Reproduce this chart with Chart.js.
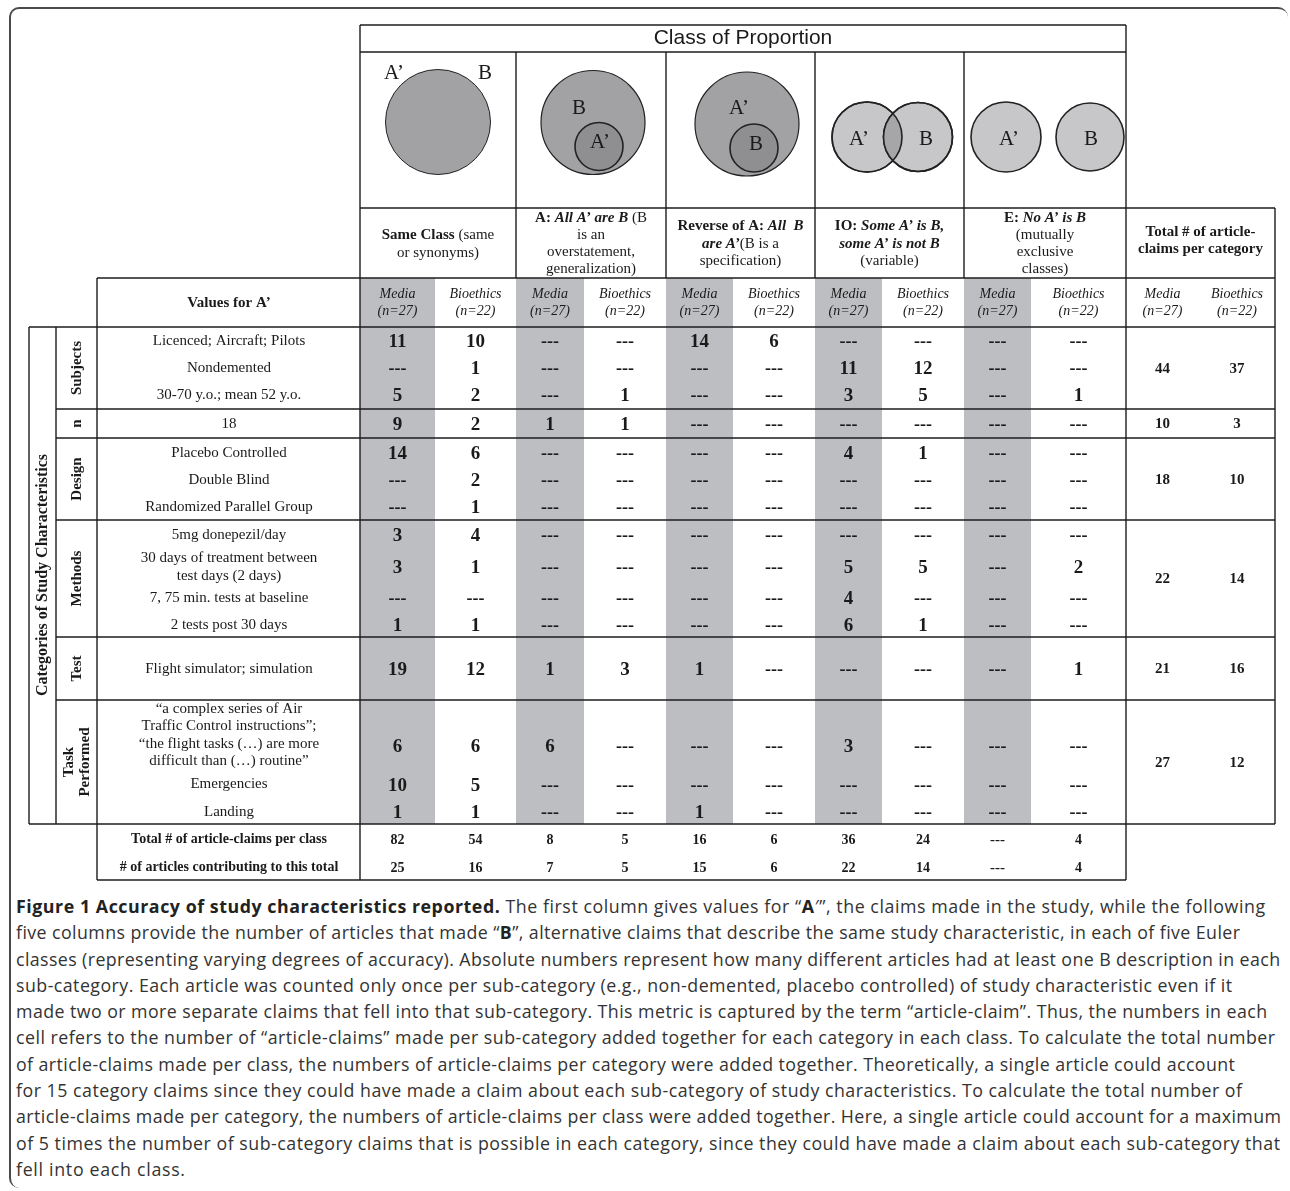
<!DOCTYPE html>
<html>
<head>
<meta charset="utf-8">
<script src="https://cdn.jsdelivr.net/npm/chart.js@4.4.1/dist/chart.umd.min.js"></script>
<style>
  html, body { margin: 0; padding: 0; background: #fff; }
  body { width: 1290px; height: 1191px; position: relative; overflow: hidden; }
  #frame {
    position: absolute; left: 9px; top: 7px; width: 1279px; height: 1181px;
    border-top: 2px solid #4a4a4a; border-left: 2px solid #4a4a4a;
    border-top-left-radius: 10px; border-bottom-left-radius: 10px; border-top-right-radius: 10px;
    box-sizing: border-box;
  }
  #table { position: absolute; left: 0; top: 0; }
  #caption {
    position: absolute; left: 16px; top: 893px; width: 1272px;
    font-family: "Open Sans", Lato, sans-serif; font-size: 17.8px; line-height: 26.3px;
    color: #333; white-space: nowrap;
  }
  #caption div { display: block; }
  #caption span.ln { display: inline-block; }
  #caption b { color: #222; }
</style>
</head>
<body>
<div id="frame"></div>
<canvas id="table" width="1290" height="890"></canvas>
<div id="caption">
<div><span class="ln"><b>Figure 1 Accuracy of study characteristics reported.</b> The first column gives values for “<b>A</b>′”, the claims made in the study, while the following</span></div>
<div><span class="ln">five columns provide the number of articles that made “<b>B</b>”, alternative claims that describe the same study characteristic, in each of five Euler</span></div>
<div><span class="ln">classes (representing varying degrees of accuracy). Absolute numbers represent how many different articles had at least one B description in each</span></div>
<div><span class="ln">sub-category. Each article was counted only once per sub-category (e.g., non-demented, placebo controlled) of study characteristic even if it</span></div>
<div><span class="ln">made two or more separate claims that fell into that sub-category. This metric is captured by the term “article-claim”. Thus, the numbers in each</span></div>
<div><span class="ln">cell refers to the number of “article-claims” made per sub-category added together for each category in each class. To calculate the total number</span></div>
<div><span class="ln">of article-claims made per class, the numbers of article-claims per category were added together. Theoretically, a single article could account</span></div>
<div><span class="ln">for 15 category claims since they could have made a claim about each sub-category of study characteristics. To calculate the total number of</span></div>
<div><span class="ln">article-claims made per category, the numbers of article-claims per class were added together. Here, a single article could account for a maximum</span></div>
<div><span class="ln">of 5 times the number of sub-category claims that is possible in each category, since they could have made a claim about each sub-category that</span></div>
<div><span class="ln">fell into each class.</span></div>
</div>
<script>
// ---- data ----
const categories = ['Subjects', 'n', 'Design', 'Methods', 'Test', 'Task|Performed'];
const subRows = [
  ['Licenced; Aircraft; Pilots'], ['Nondemented'], ['30-70 y.o.; mean 52 y.o.'],
  ['18'],
  ['Placebo Controlled'], ['Double Blind'], ['Randomized Parallel Group'],
  ['5mg donepezil/day'], ['30 days of treatment between', 'test days (2 days)'],
  ['7, 75 min. tests at baseline'], ['2 tests post 30 days'],
  ['Flight simulator; simulation'],
  ['“a complex series of Air', 'Traffic Control instructions”;', '“the flight tasks (…) are more', 'difficult than (…) routine”'],
  ['Emergencies'], ['Landing']
];
const groups = ['Media', 'Bioethics'];
const groupN = ['(n=27)', '(n=22)'];

// one array per column, null = "---"
const sameMedia = [11, null, 5, 9, 14, null, null, 3, 3, null, 1, 19, 6, 10, 1];
const sameBio   = [10, 1, 2, 2, 6, 2, 1, 4, 1, null, 1, 12, 6, 5, 1];
const allMedia  = [null, null, null, 1, null, null, null, null, null, null, null, 1, 6, null, null];
const allBio    = [null, null, 1, 1, null, null, null, null, null, null, null, 3, null, null, null];
const revMedia  = [14, null, null, null, null, null, null, null, null, null, null, 1, null, null, 1];
const revBio    = [6, null, null, null, null, null, null, null, null, null, null, null, null, null, null];
const ioMedia   = [null, 11, 3, null, 4, null, null, null, 5, 4, 6, null, 3, null, null];
const ioBio     = [null, 12, 5, null, 1, null, null, null, 5, null, 1, null, null, null, null];
const exMedia   = [null, null, null, null, null, null, null, null, null, null, null, null, null, null, null];
const exBio     = [null, null, 1, null, null, null, null, null, 2, null, null, 1, null, null, null];

const categoryTotalMedia = [44, 10, 18, 22, 21, 27];
const categoryTotalBio   = [37, 3, 10, 14, 16, 12];
const classTotals   = [82, 54, 8, 5, 16, 6, 36, 24, null, 4];
const articleTotals = [25, 16, 7, 5, 15, 6, 22, 14, null, 4];

const columns = [sameMedia, sameBio, allMedia, allBio, revMedia, revBio, ioMedia, ioBio, exMedia, exBio];

// ---- layout (pixel units of the hidden scales) ----
const W = 1290, H = 890;
const colEdges = [360, 435, 516, 584, 666, 733, 815, 882, 964, 1031, 1126, 1199, 1275];
const rowY = [341, 368, 395, 424, 453, 480, 507, 535, 567, 598, 625, 669, 746, 785, 812];
const labelY = [341, 368, 395, 424, 453, 480, 507, 535, 567, 598, 625, 669, 735, 784, 812];
const catEdges = [327, 409, 438, 520, 637, 700, 824];
const totalRowY = [839, 867];
const valuesX = 229;
// right edges of the caption lines
const captionEnds = [1265, 1240, 1280, 1232, 1267, 1275, 1235, 1242, 1281, 1280, 185];

const SERIF = '"Liberation Serif", "Times New Roman", serif';
const fN = s => s + 'px ' + SERIF;
const fB = s => 'bold ' + s + 'px ' + SERIF;
const fBI = s => 'bold italic ' + s + 'px ' + SERIF;
const fI = s => 'italic ' + s + 'px ' + SERIF;

const colCenter = j => (colEdges[j] + colEdges[j + 1]) / 2;
const catCenter = k => (catEdges[k] + catEdges[k + 1]) / 2;
const show = v => (v === null ? '---' : String(v));

// datasets: every cell is a point placed by the scales, its text drawn at the element
const datasets = columns.map((col, j) => ({
  label: 'col' + j,
  data: col.map((v, i) => ({ x: colCenter(j), y: rowY[i], v: v })),
  cellFont: fB(19), dashFont: fB(18)
}));
datasets.push({
  label: 'categoryTotals',
  data: categoryTotalMedia.map((v, k) => ({ x: colCenter(10), y: catCenter(k), v: v }))
    .concat(categoryTotalBio.map((v, k) => ({ x: colCenter(11), y: catCenter(k), v: v }))),
  cellFont: fB(15), dashFont: fB(15)
});
datasets.push({
  label: 'classTotals',
  data: classTotals.map((v, j) => ({ x: colCenter(j), y: totalRowY[0], v: v }))
    .concat(articleTotals.map((v, j) => ({ x: colCenter(j), y: totalRowY[1], v: v }))),
  cellFont: fB(14), dashFont: fB(15)
});
datasets.forEach(d => { d.pointRadius = 0; d.pointHoverRadius = 0; });

function drawRuns(ctx, runs, cx, y) {
  let total = 0;
  runs.forEach(r => { ctx.font = r[1]; total += ctx.measureText(r[0]).width; });
  let x = cx - total / 2;
  ctx.textAlign = 'left';
  runs.forEach(r => { ctx.font = r[1]; ctx.fillText(r[0], x, y); x += ctx.measureText(r[0]).width; });
}

const headerTexts = [
  { lines: [[['Same Class', fB(15)], [' (same', fN(15)]], [['or synonyms)', fN(15)]]], y: [235, 253] },
  { lines: [[['A: ', fB(15)], ['All A’ are B', fBI(15)], [' (B', fN(15)]], [['is an', fN(15)]], [['overstatement,', fN(15)]], [['generalization)', fN(15)]]], y: [218, 235, 252, 269] },
  { lines: [[['Reverse of A: ', fB(15)], ['All  B', fBI(15)]], [['are A’', fBI(15)], ['(B is a', fN(15)]], [['specification)', fN(15)]]], y: [226, 244, 261] },
  { lines: [[['IO: ', fB(15)], ['Some A’ is B,', fBI(15)]], [['some A’ is not B', fBI(15)]], [['(variable)', fN(15)]]], y: [226, 244, 261] },
  { lines: [[['E: ', fB(15)], ['No A’ is B', fBI(15)]], [['(mutually', fN(15)]], [['exclusive', fN(15)]], [['classes)', fN(15)]]], y: [218, 235, 252, 269] },
  { lines: [[['Total # of article-', fB(15)]], [['claims per category', fB(15)]]], y: [232, 249] }
];

const GRAY = '#bdbec1';
const LINE = '#1c1c1c';

const tablePlugin = {
  id: 'tableGrid',
  beforeDatasetsDraw(chart) {
    const ctx = chart.ctx;
    const sx = chart.scales.x, sy = chart.scales.y;
    const px = v => sx.getPixelForValue(v), py = v => sy.getPixelForValue(v);
    ctx.save();

    // shaded media columns
    ctx.fillStyle = GRAY;
    for (let j = 0; j < 10; j += 2) {
      ctx.fillRect(px(colEdges[j]), py(278), px(colEdges[j + 1]) - px(colEdges[j]), py(824) - py(278));
    }

    // grid lines
    ctx.strokeStyle = LINE;
    ctx.lineWidth = 1.4;
    const hl = (y, x0, x1) => { ctx.beginPath(); ctx.moveTo(px(x0), py(y)); ctx.lineTo(px(x1), py(y)); ctx.stroke(); };
    const vl = (x, y0, y1) => { ctx.beginPath(); ctx.moveTo(px(x), py(y0)); ctx.lineTo(px(x), py(y1)); ctx.stroke(); };
    hl(25, 360, 1126); hl(52, 360, 1126); hl(208, 360, 1275); hl(278, 97, 1275);
    hl(327, 29, 1275);
    catEdges.slice(1, -1).forEach(y => hl(y, 56, 1275));
    hl(824, 29, 1275); hl(880, 97, 1126);
    vl(360, 25, 880); vl(1126, 25, 880); vl(1275, 208, 824);
    vl(97, 278, 880); vl(56, 327, 824); vl(29, 327, 824);
    [2, 4, 6, 8].forEach(j => vl(colEdges[j], 52, 278));

    ctx.fillStyle = '#1a1a1a';
    ctx.textBaseline = 'middle';

    // title
    ctx.font = '21px "Liberation Sans", Arial, sans-serif';
    ctx.textAlign = 'center';
    ctx.fillText('Class of Proportion', px(743), py(38));

    // class header texts
    headerTexts.forEach((h, k) => {
      const cx = (colEdges[2 * k] + colEdges[2 * k + 2]) / 2;
      h.lines.forEach((runs, li) => drawRuns(ctx, runs, px(cx), py(h.y[li])));
    });

    // media / bioethics sub headers
    ctx.textAlign = 'center';
    ctx.font = fI(14);
    for (let j = 0; j < 12; j++) {
      ctx.fillText(groups[j % 2], px(colCenter(j)), py(294));
      ctx.fillText(groupN[j % 2], px(colCenter(j)), py(311));
    }
    ctx.font = fB(15);
    ctx.fillText('Values for A’', px(valuesX), py(303));

    // sub-row labels
    ctx.font = fN(15);
    subRows.forEach((lines, i) => {
      lines.forEach((t, li) => {
        ctx.fillText(t, px(valuesX), py(labelY[i] + (li - (lines.length - 1) / 2) * 17.2));
      });
    });

    ctx.font = fB(14);
    ctx.fillText('Total # of article-claims per class', px(valuesX), py(totalRowY[0]));
    ctx.fillText('# of articles contributing to this total', px(valuesX), py(totalRowY[1]));

    // vertical category labels
    const vtext = (lines, x, y, font) => {
      ctx.save();
      ctx.translate(px(x), py(y));
      ctx.rotate(-Math.PI / 2);
      ctx.font = font;
      ctx.textAlign = 'center';
      lines.forEach((t, li) => ctx.fillText(t, 0, (li - (lines.length - 1) / 2) * 15.5));
      ctx.restore();
    };
    categories.forEach((c, k) => vtext(c.split('|'), 77, catCenter(k), fB(15)));
    vtext(['Categories of Study Characteristics'], 43, 575, fB(16));

    // euler diagrams
    const circle = (x, y, r, fill, lw) => {
      ctx.beginPath();
      ctx.arc(px(x), py(y), r, 0, Math.PI * 2);
      ctx.fillStyle = fill; ctx.fill();
      ctx.lineWidth = lw; ctx.strokeStyle = '#222'; ctx.stroke();
    };
    circle(438, 122, 52.5, '#a2a2a5', 1);
    circle(593, 122.5, 52, '#a2a2a5', 1.2);
    circle(599, 146.5, 24, '#8f8f92', 1.6);
    circle(747, 124, 52, '#a2a2a5', 1.2);
    circle(754, 148, 24, '#8f8f92', 1.6);
    circle(867, 137, 35, '#c7c7c9', 1.6);
    circle(918, 137, 34.5, '#c7c7c9', 1.6);
    ctx.save();
    ctx.beginPath(); ctx.arc(px(867), py(137), 35, 0, Math.PI * 2); ctx.clip();
    ctx.beginPath(); ctx.arc(px(918), py(137), 34.5, 0, Math.PI * 2);
    ctx.fillStyle = '#a6a6a9'; ctx.fill();
    ctx.restore();
    ctx.lineWidth = 1.6; ctx.strokeStyle = '#222';
    ctx.beginPath(); ctx.arc(px(867), py(137), 35, 0, Math.PI * 2); ctx.stroke();
    ctx.beginPath(); ctx.arc(px(918), py(137), 34.5, 0, Math.PI * 2); ctx.stroke();
    circle(1006, 137, 35, '#c7c7c9', 1.6);
    circle(1090, 137, 34, '#c7c7c9', 1.6);

    ctx.fillStyle = '#1a1a1a';
    ctx.font = fN(21);
    ctx.textAlign = 'center';
    [['A’', 394, 73], ['B', 485, 73], ['B', 579, 108], ['A’', 600, 142], ['A’', 739, 108],
     ['B', 756, 144], ['A’', 859, 139], ['B', 926, 139], ['A’', 1009, 139], ['B', 1091, 139]]
      .forEach(l => ctx.fillText(l[0], px(l[1]), py(l[2])));

    ctx.restore();
  },
  afterDatasetsDraw(chart) {
    const ctx = chart.ctx;
    ctx.save();
    ctx.fillStyle = '#1a1a1a';
    ctx.textAlign = 'center';
    ctx.textBaseline = 'middle';
    chart.data.datasets.forEach((ds, di) => {
      const meta = chart.getDatasetMeta(di);
      meta.data.forEach((el, i) => {
        const v = ds.data[i].v;
        ctx.font = v === null ? ds.dashFont : ds.cellFont;
        ctx.fillText(show(v), el.x, el.y + 1);
      });
    });
    ctx.restore();
  }
};

function fitCaption() {
  const left = document.getElementById('caption').getBoundingClientRect().left;
  document.querySelectorAll('#caption span.ln').forEach((s, i) => {
    s.style.letterSpacing = '0px';
    const w = s.getBoundingClientRect().width;
    const n = s.textContent.length;
    const extra = (captionEnds[i] - left - w) / Math.max(1, n - 1);
    s.style.letterSpacing = extra.toFixed(3) + 'px';
  });
}

function build() {
  new Chart(document.getElementById('table'), {
    type: 'scatter',
    data: { datasets: datasets },
    options: {
      responsive: false,
      animation: false,
      events: [],
      layout: { padding: 0 },
      plugins: { legend: { display: false }, tooltip: { enabled: false } },
      scales: {
        x: { type: 'linear', min: 0, max: W, display: false },
        y: { type: 'linear', min: 0, max: H, reverse: true, display: false }
      }
    },
    plugins: [tablePlugin]
  });
  fitCaption();
}

if (document.fonts && document.fonts.ready) {
  document.fonts.ready.then(build);
} else {
  build();
}
</script>
</body>
</html>
